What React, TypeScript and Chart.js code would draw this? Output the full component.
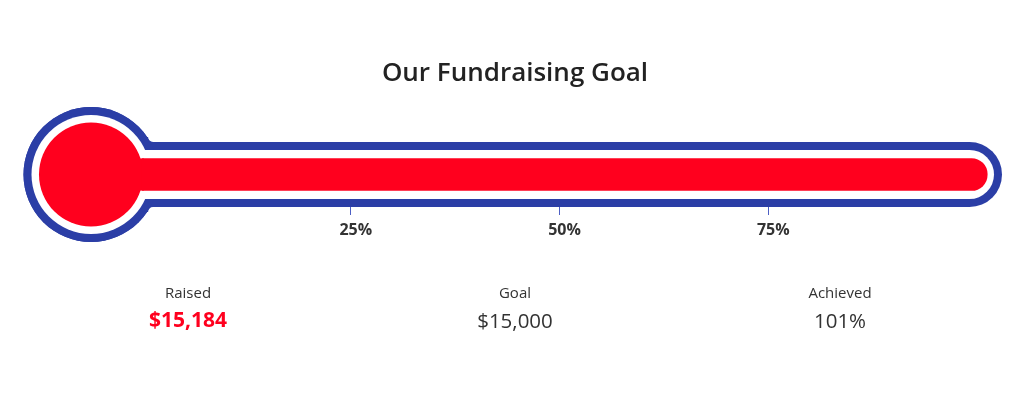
import React, { useEffect, useRef } from "react";
import { Chart, registerables } from "chart.js";

Chart.register(...registerables);

// ---- data ----
const TITLE = "Our Fundraising Goal";
const categories = ["Raised"];
const raisedValues = [15184];
const goalValue = 15000;
const tickPercents = [25, 50, 75];
const statLabels = ["Raised", "Goal", "Achieved"];
const statValues = ["$15,184", "$15,000", "101%"];

// ---- style ----
const RED = "#ff001e";
const BLUE = "#2b3ea6";
const TICK_BLUE = "#4d5fc4";
const FONT = "'Open Sans', 'Noto Sans', sans-serif";

const thermoPlugin = {
  id: "thermo",
  beforeDatasetsDraw(chart: any) {
    const { ctx } = chart;
    const xs = chart.scales.x;
    const bar = chart.getDatasetMeta(0).data[0];
    if (!bar) return;
    const x0 = xs.getPixelForValue(0);
    const xGoal = xs.getPixelForValue(goalValue);
    const cy = bar.y;
    const cx = x0 - 51;
    const right = xGoal + 25;
    ctx.save();
    // blue outline
    ctx.fillStyle = BLUE;
    ctx.beginPath();
    ctx.arc(cx, cy, 67.5, 0, Math.PI * 2);
    ctx.fill();
    ctx.beginPath();
    ctx.roundRect(cx, cy - 32.5, right - cx, 65, 32.5);
    ctx.fill();
    // small fillets at the bulb/tube junction
    const fr = 5;
    const fx = cx + Math.sqrt(Math.pow(67.5 + fr, 2) - Math.pow(32.5 + fr, 2));
    ctx.beginPath();
    ctx.rect(fx - fr - 4, cy - 32.5 - fr, fr + 4, fr);
    ctx.rect(fx - fr - 4, cy + 32.5, fr + 4, fr);
    ctx.fill();
    ctx.fillStyle = "#ffffff";
    ctx.beginPath();
    ctx.arc(fx, cy - 32.5 - fr, fr, 0, Math.PI * 2);
    ctx.arc(fx, cy + 32.5 + fr, fr, 0, Math.PI * 2);
    ctx.fill();
    // re-cover bulb edges
    ctx.fillStyle = BLUE;
    ctx.beginPath();
    ctx.arc(cx, cy, 67.5, 0, Math.PI * 2);
    ctx.fill();
    // white inner
    ctx.fillStyle = "#ffffff";
    ctx.beginPath();
    ctx.arc(cx, cy, 59.5, 0, Math.PI * 2);
    ctx.fill();
    ctx.beginPath();
    ctx.roundRect(cx, cy - 24.5, right - 8 - cx, 49, 24.5);
    ctx.fill();
    // red bulb
    ctx.fillStyle = RED;
    ctx.beginPath();
    ctx.arc(cx, cy, 52, 0, Math.PI * 2);
    ctx.fill();
    ctx.fillRect(cx, cy - 16, x0 - cx + 2, 32);
    ctx.restore();
  },
};

export default function App() {
  const canvasRef = useRef<HTMLCanvasElement | null>(null);

  useEffect(() => {
    document.body.style.margin = "0";
    const canvas = canvasRef.current;
    if (!canvas) return;
    const chart = new Chart(canvas, {
      type: "bar",
      data: {
        labels: categories,
        datasets: [
          {
            data: raisedValues,
            backgroundColor: RED,
            barThickness: 32,
            borderRadius: 16,
            borderSkipped: "start",
            clip: false,
          },
        ],
      },
      options: {
        indexAxis: "y",
        animation: false,
        responsive: false,
        maintainAspectRatio: false,
        layout: { padding: { left: 142, right: 47, top: 142, bottom: 150 } },
        plugins: {
          legend: { display: false },
          tooltip: { enabled: false },
          title: { display: false },
        },
        scales: {
          x: {
            type: "linear",
            min: 0,
            max: goalValue,
            afterBuildTicks: (scale: any) => {
              scale.ticks = tickPercents.map((p) => ({ value: (goalValue * p) / 100 }));
            },
            afterFit: (scale: any) => {
              scale.height = 40;
            },
            grid: {
              display: true,
              drawOnChartArea: false,
              drawTicks: true,
              tickLength: 8,
              tickColor: TICK_BLUE,
              tickWidth: 1,
            },
            border: { display: false },
            ticks: {
              autoSkip: false,
              maxRotation: 0,
              padding: 6,
              labelOffset: 5,
              color: "#333333",
              font: { family: FONT, size: 16, weight: "bold" },
              callback: (v: any) => `${Math.round((Number(v) / goalValue) * 100)}%`,
            },
          },
          y: { display: false },
        },
      },
      plugins: [thermoPlugin],
    });
    return () => chart.destroy();
  }, []);

  const centers = [188, 515, 840];

  return (
    <div style={{ position: "relative", width: 1024, height: 397, background: "#fff", fontFamily: FONT }}>
      <canvas ref={canvasRef} width={1024} height={397} style={{ position: "absolute", left: 0, top: 0 }} />
      <div
        style={{
          position: "absolute",
          left: 0,
          width: 1024,
          top: 58,
          textAlign: "center",
          fontSize: 26,
          lineHeight: "26px",
          fontWeight: 600,
          color: "#222222",
          paddingLeft: 6,
          boxSizing: "border-box",
        }}
      >
        {TITLE}
      </div>
      {statLabels.map((lab, i) => (
        <React.Fragment key={lab}>
          <div
            style={{
              position: "absolute",
              left: centers[i],
              top: 285,
              transform: "translateX(-50%)",
              fontSize: 15,
              lineHeight: "15px",
              color: "#333333",
              whiteSpace: "nowrap",
            }}
          >
            {lab}
          </div>
          <div
            style={{
              position: "absolute",
              left: centers[i],
              top: i === 0 ? 309 : 310,
              transform: "translateX(-50%)",
              fontSize: i === 0 ? 21 : 20.5,
              lineHeight: i === 0 ? "21px" : "20.5px",
              fontWeight: i === 0 ? 700 : 400,
              color: i === 0 ? RED : "#333333",
              whiteSpace: "nowrap",
            }}
          >
            {statValues[i]}
          </div>
        </React.Fragment>
      ))}
    </div>
  );
}
